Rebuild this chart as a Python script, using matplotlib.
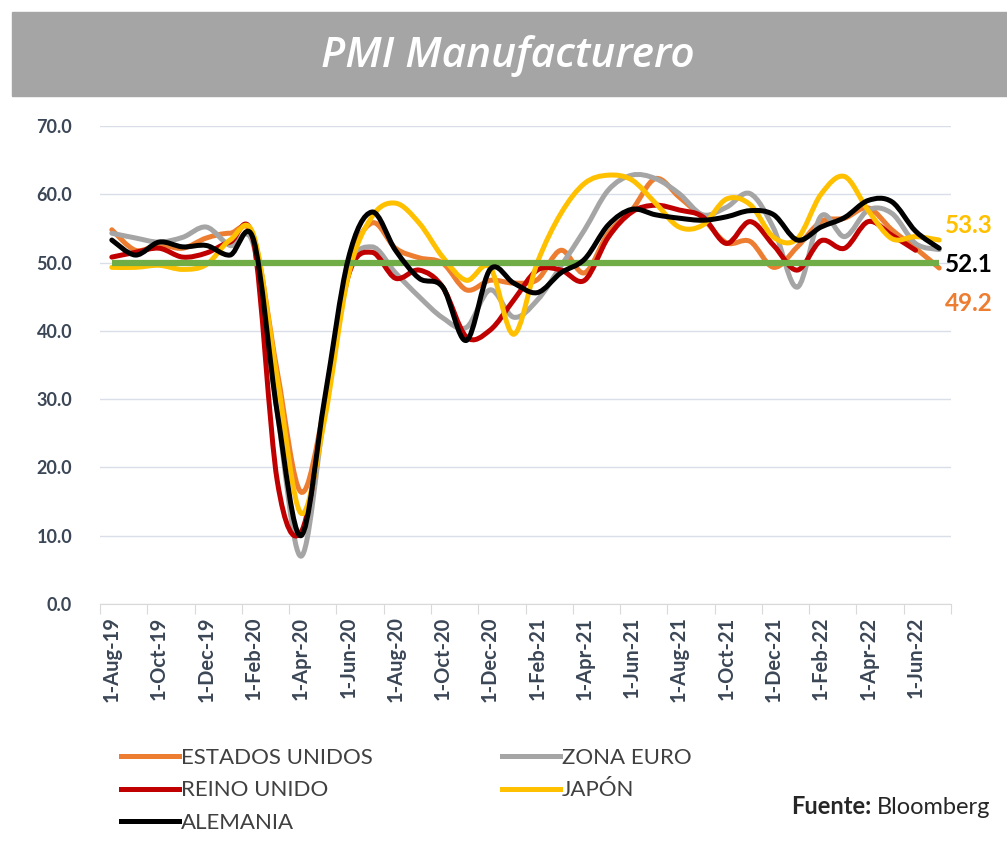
import numpy as np
import matplotlib
matplotlib.use("Agg")
import matplotlib.pyplot as plt
from matplotlib.path import Path
from matplotlib.patches import PathPatch, Rectangle
from matplotlib.lines import Line2D

# Monthly PMI readings, Aug-19 .. Jul-22
months = ["Aug-19", "Sep-19", "Oct-19", "Nov-19", "Dec-19", "Jan-20", "Feb-20", "Mar-20",
          "Apr-20", "May-20", "Jun-20", "Jul-20", "Aug-20", "Sep-20", "Oct-20", "Nov-20",
          "Dec-20", "Jan-21", "Feb-21", "Mar-21", "Apr-21", "May-21", "Jun-21", "Jul-21",
          "Aug-21", "Sep-21", "Oct-21", "Nov-21", "Dec-21", "Jan-22", "Feb-22", "Mar-22",
          "Apr-22", "May-22", "Jun-22", "Jul-22"]
tick_labels = ["1-" + m for m in months[::2]]

estados_unidos = [54.8, 51.8, 52.6, 52.1, 53.6, 54.3, 53.7, 34.0, 16.4, 29.0, 49.0, 55.8,
                  52.1, 50.7, 49.9, 46.0, 47.4, 47.0, 47.5, 51.8, 48.5, 54.3, 57.7, 62.3,
                  59.6, 56.5, 52.9, 53.1, 49.3, 52.3, 56.0, 56.5, 58.0, 54.8, 52.1, 49.2]
zona_euro = [54.3, 53.6, 53.0, 53.7, 55.2, 52.5, 52.5, 28.0, 7.0, 28.0, 48.5, 52.3,
             48.5, 45.0, 41.9, 40.5, 46.0, 42.0, 44.5, 49.5, 54.8, 60.6, 62.8, 62.3,
             60.1, 57.0, 58.1, 60.1, 55.0, 46.4, 56.8, 53.8, 57.7, 57.2, 52.8, 51.9]
reino_unido = [50.8, 51.5, 52.1, 50.8, 51.4, 53.0, 53.0, 18.0, 10.5, 28.0, 48.0, 51.5,
               47.7, 48.9, 46.4, 39.1, 40.1, 44.5, 48.9, 48.9, 47.4, 53.7, 57.4, 58.4,
               57.7, 56.7, 52.8, 56.0, 52.5, 48.9, 53.2, 52.1, 56.0, 54.0, 51.8, np.nan]
japon = [49.3, 49.3, 49.6, 49.0, 49.7, 53.3, 54.0, 33.0, 13.3, 27.0, 48.0, 56.7,
         58.7, 55.8, 50.8, 47.4, 49.3, 39.5, 50.0, 57.2, 61.6, 62.8, 62.1, 58.7,
         55.2, 55.5, 59.3, 58.5, 53.7, 53.5, 60.0, 62.6, 57.6, 53.5, 53.8, 53.3]
alemania = [53.3, 51.1, 53.0, 52.3, 52.5, 51.1, 53.3, 28.0, 10.0, 30.0, 50.5, 57.4,
            51.8, 47.7, 46.4, 38.6, 49.0, 47.0, 45.6, 48.5, 50.5, 55.5, 57.8, 57.0,
            56.5, 56.2, 56.7, 57.6, 57.0, 53.3, 55.2, 56.6, 59.1, 58.9, 54.6, 52.1]

series = [
    ("ESTADOS UNIDOS", estados_unidos, "#ED7D31"),
    ("ZONA EURO", zona_euro, "#A5A5A5"),
    ("REINO UNIDO", reino_unido, "#C00000"),
    ("JAPÓN", japon, "#FFC000"),
    ("ALEMANIA", alemania, "#000000"),
]
end_labels = [("53.3", "#FFC000"), ("52.1", "#000000"), ("49.2", "#ED7D31")]
threshold = 50.0

plt.rcParams["font.family"] = ["Lato", "DejaVu Sans"]
TXT = "#3B4656"


def smooth_path(xs, ys):
    # Excel-style smoothed line: Catmull-Rom segments drawn as cubic Beziers
    pts = np.column_stack([xs, ys])
    pts = pts[~np.isnan(pts[:, 1])]
    n = len(pts)
    verts = [pts[0]]
    codes = [Path.MOVETO]
    for i in range(n - 1):
        p0 = pts[max(i - 1, 0)]
        p1 = pts[i]
        p2 = pts[i + 1]
        p3 = pts[min(i + 2, n - 1)]
        verts += [p1 + (p2 - p0) / 6.0, p2 - (p3 - p1) / 6.0, p2]
        codes += [Path.CURVE4] * 3
    return Path(verts, codes)


fig = plt.figure(figsize=(10.07, 8.42), dpi=100)

# title banner
fig.patches.append(Rectangle((12 / 1007, 1 - 96 / 842), 1 - 12 / 1007, 84 / 842,
                             transform=fig.transFigure, color="#A5A5A5", zorder=0))
fig.text(508 / 1007, 1 - 56 / 842, "PMI Manufacturero", color="white", fontsize=30.5,
         fontstyle="italic", fontweight="semibold", family=["Open Sans", "DejaVu Sans"],
         ha="center", va="center")

ax = fig.add_axes([100 / 1007, 1 - 604 / 842, 851 / 1007, 478 / 842])
x = np.arange(len(months)) + 0.5

handles = []
for i, (name, vals, col) in enumerate(series):
    z = 5 if name == "ALEMANIA" else 2 + i * 0.1
    ax.add_patch(PathPatch(smooth_path(x, np.array(vals, dtype=float)), fill=False,
                           edgecolor=col, lw=3.6, capstyle="round", joinstyle="round",
                           zorder=z))
    handles.append(Line2D([], [], color=col, lw=3.6, label=name))

ax.hlines(threshold, x[0], x[-1], color="#70AD47", lw=4.5, zorder=4)

ax.set_xlim(0, len(months))
ax.set_ylim(0, 70)
ax.set_yticks(np.arange(0, 71, 10))
ax.set_yticklabels([f"{v:.1f}" for v in np.arange(0, 71, 10)])
ax.grid(axis="y", color="#D9DEE8", lw=1)
ax.set_axisbelow(True)
for s in ["top", "right", "left"]:
    ax.spines[s].set_visible(False)
ax.spines["bottom"].set_color("#D9D9D9")
ax.tick_params(axis="y", length=0, pad=20, labelsize=13, labelcolor=TXT)
for lab in ax.get_yticklabels():
    lab.set_fontweight("bold")

ax.set_xticks(np.arange(0, len(months) + 1, 2))
ax.set_xticklabels([])
ax.tick_params(axis="x", which="major", length=7, color="#D9D9D9")
ax.set_xticks(x[::2], minor=True)
ax.set_xticklabels(tick_labels, minor=True, rotation=90, fontsize=14.5,
                   fontweight="bold", color=TXT)
ax.tick_params(axis="x", which="minor", length=0, pad=9)

# end-of-series value labels
for k, (txt, col) in enumerate(end_labels):
    ax.annotate(txt, xy=(1.0, threshold), xycoords=("axes fraction", "data"),
                xytext=(-6, 37 - 39 * k), textcoords="offset pixels",
                color=col, fontsize=17.5, fontweight="bold", va="center", ha="left",
                annotation_clip=False)

order = [0, 2, 4, 1, 3]
fig.legend([handles[i] for i in order], [handles[i].get_label() for i in order],
           loc="upper left", bbox_to_anchor=(110 / 1007, 1 - 737 / 842), ncol=2,
           frameon=False, fontsize=16, handlelength=2.6, handletextpad=0.1,
           columnspacing=5.8, labelspacing=0.55, borderpad=0, labelcolor="#404040")

t1 = fig.text(990 / 1007, 1 - 807 / 842, "Bloomberg", fontsize=17, color="#262626",
              ha="right", va="center")
fig.canvas.draw()
bb = t1.get_window_extent()
fig.text(bb.x0 - 5, bb.y0 + bb.height / 2, "Fuente:", fontsize=17, fontweight="bold",
         color="#262626", ha="right", va="center", transform=None)

fig.savefig("out.png", dpi=100, facecolor="white")
